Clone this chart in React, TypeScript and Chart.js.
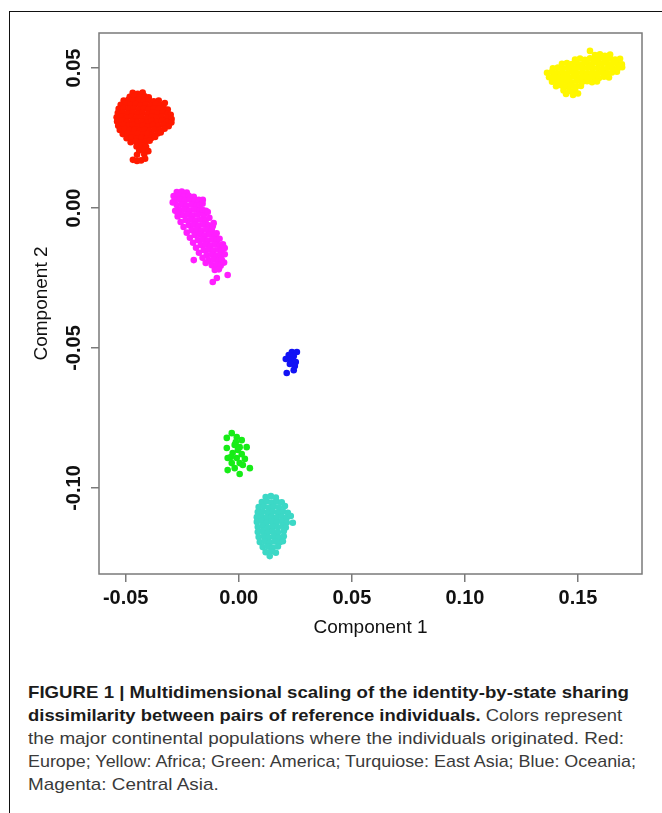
import React, { useEffect, useLayoutEffect, useRef } from 'react';
import { Chart, registerables } from 'chart.js';

Chart.register(...registerables);

// ---------- data ----------
const X_MIN = -0.0618;
const X_MAX = 0.1783;
const Y_MIN = -0.1307;
const Y_MAX = 0.0625;
const X_TICKS = [-0.05, 0, 0.05, 0.1, 0.15];
const Y_TICKS = [-0.1, -0.05, 0, 0.05];
const X_TITLE = 'Component 1';
const Y_TITLE = 'Component 2';

const POPULATIONS = ['Europe', 'Africa', 'America', 'East Asia', 'Oceania', 'Central Asia'];
const COLORS = ['#ff1a00', '#fff700', '#17ec17', '#3cd8c6', '#1212f5', '#ff1fff'];

const EUROPE: number[][] = [
  [-0.0469, 0.0411], [-0.0447, 0.0408], [-0.0425, 0.0412],
  [-0.0482, 0.0397], [-0.0460, 0.0400], [-0.0438, 0.0396], [-0.0416, 0.0399], [-0.0398, 0.0395],
  [-0.0509, 0.0384], [-0.0487, 0.0387], [-0.0465, 0.0383], [-0.0442, 0.0386], [-0.0420, 0.0382], [-0.0398, 0.0385], [-0.0376, 0.0381], [-0.0354, 0.0384],
  [-0.0522, 0.0369], [-0.0500, 0.0372], [-0.0478, 0.0368], [-0.0456, 0.0371], [-0.0434, 0.0367], [-0.0412, 0.0370], [-0.0389, 0.0366], [-0.0367, 0.0371], [-0.0345, 0.0368], [-0.0327, 0.0375],
  [-0.0531, 0.0354], [-0.0509, 0.0357], [-0.0487, 0.0353], [-0.0465, 0.0356], [-0.0442, 0.0352], [-0.0420, 0.0355], [-0.0398, 0.0351], [-0.0376, 0.0356], [-0.0354, 0.0353], [-0.0332, 0.0357], [-0.0314, 0.0352],
  [-0.0535, 0.0339], [-0.0513, 0.0342], [-0.0491, 0.0338], [-0.0469, 0.0341], [-0.0447, 0.0337], [-0.0425, 0.0340], [-0.0403, 0.0336], [-0.0381, 0.0341], [-0.0358, 0.0338], [-0.0336, 0.0342], [-0.0314, 0.0337], [-0.0301, 0.0333],
  [-0.0540, 0.0324], [-0.0518, 0.0327], [-0.0496, 0.0323], [-0.0473, 0.0326], [-0.0451, 0.0322], [-0.0429, 0.0325], [-0.0407, 0.0321], [-0.0385, 0.0326], [-0.0363, 0.0323], [-0.0341, 0.0327], [-0.0319, 0.0322], [-0.0297, 0.0318],
  [-0.0538, 0.0309], [-0.0516, 0.0312], [-0.0494, 0.0308], [-0.0471, 0.0311], [-0.0449, 0.0307], [-0.0427, 0.0310], [-0.0405, 0.0306], [-0.0383, 0.0311], [-0.0361, 0.0308], [-0.0339, 0.0312], [-0.0317, 0.0307], [-0.0298, 0.0305],
  [-0.0533, 0.0294], [-0.0511, 0.0297], [-0.0489, 0.0293], [-0.0467, 0.0296], [-0.0445, 0.0292], [-0.0423, 0.0295], [-0.0401, 0.0291], [-0.0379, 0.0296], [-0.0356, 0.0293], [-0.0334, 0.0297], [-0.0310, 0.0292],
  [-0.0526, 0.0279], [-0.0504, 0.0282], [-0.0482, 0.0278], [-0.0460, 0.0281], [-0.0438, 0.0277], [-0.0416, 0.0280], [-0.0394, 0.0276], [-0.0372, 0.0281], [-0.0350, 0.0278], [-0.0328, 0.0283],
  [-0.0513, 0.0264], [-0.0491, 0.0267], [-0.0469, 0.0263], [-0.0447, 0.0266], [-0.0425, 0.0262], [-0.0403, 0.0265], [-0.0381, 0.0261], [-0.0359, 0.0266], [-0.0345, 0.0270],
  [-0.0496, 0.0249], [-0.0474, 0.0252], [-0.0452, 0.0248], [-0.0430, 0.0251], [-0.0408, 0.0247], [-0.0386, 0.0250], [-0.0370, 0.0254],
  [-0.0478, 0.0235], [-0.0456, 0.0238], [-0.0434, 0.0234], [-0.0412, 0.0237], [-0.0394, 0.0240],
  [-0.0452, 0.0220], [-0.0430, 0.0223], [-0.0410, 0.0219],
  [-0.0440, 0.0205], [-0.0418, 0.0208], [-0.0400, 0.0203],
  [-0.0450, 0.0190], [-0.0418, 0.0192], [-0.0468, 0.0172], [-0.0450, 0.0168], [-0.0432, 0.0170], [-0.0414, 0.0176],
];

const AFRICA: number[][] = [
  [0.1553, 0.0561], [0.1575, 0.0546], [0.1597, 0.0549], [0.1619, 0.0544], [0.1642, 0.0548],
  [0.1487, 0.0530], [0.1509, 0.0534], [0.1531, 0.0529], [0.1553, 0.0535], [0.1575, 0.0531], [0.1597, 0.0536], [0.1619, 0.0530], [0.1642, 0.0534], [0.1664, 0.0530], [0.1686, 0.0533],
  [0.1429, 0.0515], [0.1451, 0.0518], [0.1473, 0.0514], [0.1495, 0.0517], [0.1518, 0.0513], [0.1540, 0.0518], [0.1562, 0.0514], [0.1584, 0.0519], [0.1606, 0.0515], [0.1628, 0.0518], [0.1650, 0.0514], [0.1672, 0.0517], [0.1694, 0.0513],
  [0.1389, 0.0499], [0.1411, 0.0502], [0.1433, 0.0498], [0.1456, 0.0501], [0.1478, 0.0497], [0.1500, 0.0502], [0.1522, 0.0498], [0.1544, 0.0501], [0.1566, 0.0497], [0.1588, 0.0500], [0.1611, 0.0496], [0.1633, 0.0501], [0.1655, 0.0497], [0.1677, 0.0500], [0.1695, 0.0503],
  [0.1363, 0.0483], [0.1385, 0.0486], [0.1407, 0.0482], [0.1429, 0.0485], [0.1451, 0.0481], [0.1473, 0.0486], [0.1495, 0.0482], [0.1518, 0.0485], [0.1540, 0.0481], [0.1562, 0.0484], [0.1584, 0.0480], [0.1606, 0.0485], [0.1628, 0.0481], [0.1650, 0.0484], [0.1672, 0.0487],
  [0.1372, 0.0467], [0.1394, 0.0470], [0.1416, 0.0466], [0.1438, 0.0469], [0.1460, 0.0465], [0.1482, 0.0470], [0.1504, 0.0466], [0.1526, 0.0469], [0.1548, 0.0465], [0.1570, 0.0468], [0.1593, 0.0464], [0.1615, 0.0469], [0.1637, 0.0466],
  [0.1385, 0.0451], [0.1407, 0.0454], [0.1429, 0.0450], [0.1451, 0.0453], [0.1473, 0.0449], [0.1495, 0.0454], [0.1518, 0.0450], [0.1540, 0.0453], [0.1562, 0.0449], [0.1584, 0.0452],
  [0.1403, 0.0435], [0.1425, 0.0438], [0.1447, 0.0434], [0.1469, 0.0437], [0.1491, 0.0433], [0.1513, 0.0436],
  [0.1436, 0.0420], [0.1462, 0.0418], [0.1487, 0.0421],
  [0.1447, 0.0407], [0.1478, 0.0404], [0.1500, 0.0409],
];

const AMERICA: number[][] = [
  [-0.0031, -0.0804], [-0.0053, -0.0821], [-0.0009, -0.0818], [0.0013, -0.0829], [-0.0013, -0.0836],
  [-0.0018, -0.0846], [-0.0053, -0.0857], [0.0035, -0.0854], [0.0004, -0.0854], [-0.0004, -0.0864],
  [-0.0027, -0.0875], [0.0013, -0.0879], [-0.0049, -0.0893], [-0.0009, -0.0893], [-0.0035, -0.0889],
  [0.0027, -0.0896], [-0.0031, -0.0911], [0.0004, -0.0911], [0.0018, -0.0918], [-0.0049, -0.0936],
  [-0.0018, -0.0929], [0.0049, -0.0929], [0.0004, -0.0950],
];

const EAST_ASIA: number[][] = [
  [0.0119, -0.1032], [0.0142, -0.1029], [0.0164, -0.1034],
  [0.0102, -0.1050], [0.0124, -0.1047], [0.0146, -0.1052], [0.0168, -0.1048], [0.0190, -0.1051],
  [0.0088, -0.1068], [0.0111, -0.1065], [0.0133, -0.1070], [0.0155, -0.1066], [0.0177, -0.1069], [0.0204, -0.1064],
  [0.0084, -0.1086], [0.0106, -0.1083], [0.0128, -0.1088], [0.0150, -0.1084], [0.0173, -0.1087], [0.0195, -0.1083], [0.0217, -0.1088],
  [0.0080, -0.1104], [0.0102, -0.1101], [0.0124, -0.1106], [0.0146, -0.1102], [0.0168, -0.1105], [0.0190, -0.1101], [0.0212, -0.1106], [0.0230, -0.1100],
  [0.0080, -0.1121], [0.0102, -0.1118], [0.0124, -0.1123], [0.0146, -0.1119], [0.0168, -0.1122], [0.0190, -0.1118], [0.0212, -0.1123], [0.0239, -0.1124],
  [0.0084, -0.1139], [0.0106, -0.1136], [0.0128, -0.1141], [0.0150, -0.1137], [0.0173, -0.1140], [0.0195, -0.1136], [0.0208, -0.1141],
  [0.0084, -0.1157], [0.0106, -0.1154], [0.0128, -0.1159], [0.0150, -0.1155], [0.0173, -0.1158], [0.0199, -0.1154],
  [0.0088, -0.1175], [0.0111, -0.1172], [0.0133, -0.1177], [0.0155, -0.1173], [0.0177, -0.1176], [0.0199, -0.1172],
  [0.0093, -0.1193], [0.0115, -0.1190], [0.0137, -0.1195], [0.0159, -0.1191], [0.0181, -0.1194], [0.0195, -0.1190],
  [0.0106, -0.1211], [0.0128, -0.1208], [0.0150, -0.1213], [0.0173, -0.1209],
  [0.0119, -0.1229], [0.0142, -0.1226], [0.0164, -0.1231],
  [0.0137, -0.1243],
];

const OCEANIA: number[][] = [
  [0.0235, -0.0514], [0.0257, -0.0514], [0.0221, -0.0525], [0.0243, -0.0529], [0.0208, -0.0539],
  [0.0230, -0.0543], [0.0252, -0.0550], [0.0226, -0.0557], [0.0248, -0.0564], [0.0243, -0.0579],
  [0.0212, -0.0589],
];

const CENTRAL_ASIA: number[][] = [
  [-0.0274, 0.0057], [-0.0252, 0.0059], [-0.0230, 0.0055],
  [-0.0288, 0.0043], [-0.0265, 0.0045], [-0.0243, 0.0041], [-0.0221, 0.0044], [-0.0199, 0.0040],
  [-0.0283, 0.0029], [-0.0261, 0.0031], [-0.0239, 0.0027], [-0.0217, 0.0030], [-0.0195, 0.0026], [-0.0177, 0.0029],
  [-0.0274, 0.0011], [-0.0252, 0.0013], [-0.0230, 0.0009], [-0.0208, 0.0012], [-0.0186, 0.0008], [-0.0173, 0.0011],
  [-0.0261, -0.0007], [-0.0239, -0.0005], [-0.0217, -0.0009], [-0.0195, -0.0006], [-0.0173, -0.0010], [-0.0159, -0.0007],
  [-0.0248, -0.0025], [-0.0226, -0.0023], [-0.0204, -0.0027], [-0.0181, -0.0024], [-0.0155, -0.0026],
  [-0.0235, -0.0043], [-0.0212, -0.0041], [-0.0190, -0.0045], [-0.0168, -0.0042], [-0.0146, -0.0044],
  [-0.0221, -0.0061], [-0.0199, -0.0059], [-0.0177, -0.0063], [-0.0155, -0.0060], [-0.0133, -0.0062],
  [-0.0208, -0.0079], [-0.0186, -0.0077], [-0.0164, -0.0081], [-0.0142, -0.0078], [-0.0119, -0.0080],
  [-0.0195, -0.0096], [-0.0173, -0.0094], [-0.0150, -0.0098], [-0.0128, -0.0095], [-0.0106, -0.0097],
  [-0.0181, -0.0114], [-0.0159, -0.0112], [-0.0137, -0.0116], [-0.0115, -0.0113], [-0.0097, -0.0115],
  [-0.0168, -0.0132], [-0.0146, -0.0130], [-0.0124, -0.0134], [-0.0102, -0.0131], [-0.0084, -0.0133],
  [-0.0155, -0.0150], [-0.0133, -0.0148], [-0.0111, -0.0152], [-0.0088, -0.0149], [-0.0075, -0.0151],
  [-0.0142, -0.0168], [-0.0119, -0.0166], [-0.0097, -0.0170], [-0.0080, -0.0167],
  [-0.0133, -0.0186], [-0.0111, -0.0184], [-0.0088, -0.0188], [-0.0075, -0.0185],
  [-0.0119, -0.0204], [-0.0097, -0.0202], [-0.0080, -0.0206],
  [-0.0106, -0.0221], [-0.0088, -0.0219],
  [-0.0292, 0.0020], [-0.0281, -0.0010], [-0.0270, -0.0030], [-0.0257, -0.0050], [-0.0244, -0.0068],
  [-0.0230, -0.0088], [-0.0216, -0.0106], [-0.0202, -0.0124], [-0.0189, -0.0142], [-0.0176, -0.0160],
  [-0.0160, -0.0178], [-0.0146, -0.0196],
  [-0.0160, 0.0015], [-0.0145, -0.0010], [-0.0130, -0.0035], [-0.0115, -0.0065], [-0.0098, -0.0090],
  [-0.0085, -0.0110], [-0.0070, -0.0130], [-0.0062, -0.0165], [-0.0065, -0.0195],
  [-0.0199, -0.0186], [-0.0115, -0.0264], [-0.0097, -0.0250], [-0.0049, -0.0239], [-0.0062, -0.0143],
  [-0.0111, -0.0054], [-0.0137, -0.0014], [-0.0159, 0.0029], [-0.0270, -0.0018],
];

const SERIES = [EUROPE, AFRICA, AMERICA, EAST_ASIA, OCEANIA, CENTRAL_ASIA];

const CAPTION_BOLD_1 = 'FIGURE 1 | Multidimensional scaling of the identity-by-state sharing';
const CAPTION_BOLD_2 = 'dissimilarity between pairs of reference individuals.';
const CAPTION_TEXT_2 = ' Colors represent';
const CAPTION_TEXT_3 = 'the major continental populations where the individuals originated. Red:';
const CAPTION_TEXT_4 = 'Europe; Yellow: Africa; Green: America; Turquiose: East Asia; Blue: Oceania;';
const CAPTION_TEXT_5 = 'Magenta: Central Asia.';

// ---------- styling / layout ----------
const FONT = '"Liberation Sans", Arial, Helvetica, sans-serif';
const AXIS_GREY = '#7a7a7a';
const INK = '#111111';
const LINE_TARGET_WIDTHS = [601, 594, 596, 608];

const fmt = (v: number) => v.toFixed(2);

const rFramePlugin = {
  id: 'rFrame',
  afterDraw(chart: any) {
    const { ctx, chartArea: a, scales } = chart;
    ctx.save();
    ctx.strokeStyle = AXIS_GREY;
    ctx.lineWidth = 1.5;
    ctx.strokeRect(a.left, a.top, a.right - a.left, a.bottom - a.top);
    ctx.fillStyle = INK;
    ctx.font = `bold 20px ${FONT}`;
    ctx.textAlign = 'center';
    ctx.textBaseline = 'middle';
    const ys = scales.y;
    for (const t of ys.ticks) {
      const py = ys.getPixelForValue(t.value);
      ctx.save();
      ctx.translate(a.left - 25, py);
      ctx.rotate(-Math.PI / 2);
      ctx.fillText(fmt(t.value), 0, 0);
      ctx.restore();
    }
    ctx.restore();
  },
};

function ScatterChart() {
  const ref = useRef<HTMLCanvasElement | null>(null);
  useEffect(() => {
    if (!ref.current) return;
    Chart.defaults.font.family = FONT;
    const chart = new Chart(ref.current, {
      type: 'scatter',
      data: {
        datasets: SERIES.map((pts, i) => ({
          label: POPULATIONS[i],
          data: pts.map(([x, y]) => ({ x, y })),
          backgroundColor: COLORS[i],
          borderColor: COLORS[i],
          borderWidth: 0,
          pointRadius: 3.3,
          pointHoverRadius: 3.3,
        })),
      },
      options: {
        responsive: false,
        animation: false,
        devicePixelRatio: 1,
        events: [],
        layout: { padding: { left: 0, top: 33, right: 20, bottom: 0 } },
        plugins: { legend: { display: false }, tooltip: { enabled: false } },
        scales: {
          x: {
            type: 'linear',
            min: X_MIN,
            max: X_MAX,
            afterBuildTicks: (s: any) => { s.ticks = X_TICKS.map((v) => ({ value: v })); },
            afterFit: (s: any) => { s.height = 86; },
            grid: { display: true, drawOnChartArea: false, drawTicks: true, tickLength: 8, color: AXIS_GREY, lineWidth: 1.5 },
            border: { display: false },
            ticks: {
              autoSkip: false, maxRotation: 0, minRotation: 0, padding: 4, color: INK,
              font: { family: FONT, size: 20, weight: 'bold' },
              callback: (v: any) => fmt(Number(v)),
            },
            title: { display: true, text: X_TITLE, color: INK, font: { family: FONT, size: 19 }, padding: { top: 0, bottom: 20.6 } },
          },
          y: {
            type: 'linear',
            min: Y_MIN,
            max: Y_MAX,
            afterBuildTicks: (s: any) => { s.ticks = Y_TICKS.map((v) => ({ value: v })); },
            afterFit: (s: any) => { s.width = 99; },
            grid: { display: true, drawOnChartArea: false, drawTicks: true, tickLength: 8, color: AXIS_GREY, lineWidth: 1.5 },
            border: { display: false },
            ticks: { display: false },
            title: { display: true, text: Y_TITLE, color: INK, font: { family: FONT, size: 19 }, padding: { top: 30.6, bottom: 0 } },
          },
        },
      } as any,
      plugins: [rFramePlugin],
    });
    return () => chart.destroy();
  }, []);
  return <canvas ref={ref} width={662} height={660} style={{ position: 'absolute', left: 0, top: 0, width: 662, height: 660 }} />;
}

function Caption() {
  const lines = useRef<(HTMLSpanElement | null)[]>([]);
  useLayoutEffect(() => {
    let normalScale = 1;
    lines.current.forEach((el, i) => {
      if (!el) return;
      el.style.transform = 'none';
      const w = el.getBoundingClientRect().width;
      if (i < LINE_TARGET_WIDTHS.length) {
        const s = LINE_TARGET_WIDTHS[i] / w;
        if (i === 2) normalScale = s;
        el.style.transform = `scaleX(${s})`;
      } else {
        el.style.transform = `scaleX(${normalScale})`;
      }
    });
  }, []);
  const lineStyle: React.CSSProperties = { display: 'inline-block', whiteSpace: 'nowrap', transformOrigin: 'left center' };
  const b: React.CSSProperties = { fontWeight: 'bold', color: '#1b1b1b' };
  const n: React.CSSProperties = { fontWeight: 'normal', color: '#3a3a3a' };
  const set = (i: number) => (el: HTMLSpanElement | null) => { lines.current[i] = el; };
  return (
    <div style={{ position: 'absolute', left: 28, top: 682, fontFamily: FONT, fontSize: 17, lineHeight: '22.9px' }}>
      <div><span ref={set(0)} style={{ ...lineStyle, ...b }}>{CAPTION_BOLD_1}</span></div>
      <div><span ref={set(1)} style={lineStyle}><span style={b}>{CAPTION_BOLD_2}</span><span style={n}>{CAPTION_TEXT_2}</span></span></div>
      <div><span ref={set(2)} style={{ ...lineStyle, ...n }}>{CAPTION_TEXT_3}</span></div>
      <div><span ref={set(3)} style={{ ...lineStyle, ...n }}>{CAPTION_TEXT_4}</span></div>
      <div><span ref={set(4)} style={{ ...lineStyle, ...n }}>{CAPTION_TEXT_5}</span></div>
    </div>
  );
}

export default function App() {
  useEffect(() => {
    document.body.style.margin = '0';
  }, []);
  return (
    <div style={{ position: 'fixed', left: 0, top: 0, width: 662, height: 813, overflow: 'hidden', background: '#fff' }}>
      <div style={{ position: 'absolute', left: 9, top: 11, width: 700, height: 900, border: '1.5px solid #111', boxSizing: 'border-box' }} />
      <ScatterChart />
      <Caption />
    </div>
  );
}
